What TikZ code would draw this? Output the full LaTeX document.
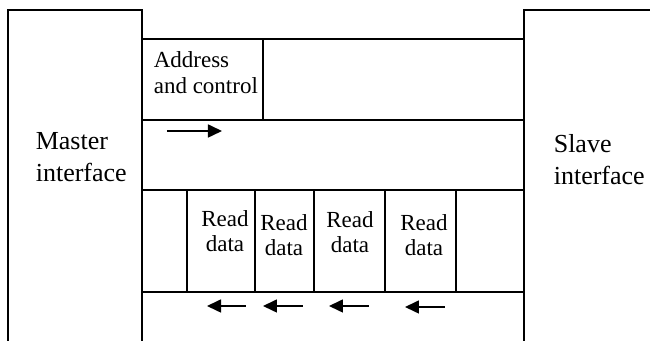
\documentclass[tikz,border=0pt]{standalone}
\usepackage{fontspec}
\setmainfont{Liberation Serif}
\usetikzlibrary{arrows.meta}
\begin{document}
\begin{tikzpicture}[x=0.5pt,y=-0.5pt,line width=0.8pt,
    side/.style={align=left,inner sep=0pt,anchor=base west,font=\fontsize{13}{16}\selectfont},
    lbl/.style={align=center,inner sep=0pt,anchor=base,font=\fontsize{11.5}{12.5}\selectfont},
    bus/.style={-{Triangle[length=7pt,width=6.5pt]}}]
  \useasboundingbox (0,0) rectangle (650,341);

  \coordinate (M1) at (8,341);
  \coordinate (M2) at (8,10);
  \coordinate (M3) at (142,10);
  \coordinate (M4) at (142,341);
  \coordinate (S1) at (524,341);
  \coordinate (S2) at (524,10);
  \coordinate (S3) at (650,10);

  \draw (M1) -- (M2) -- (M3) -- (M4);
  \draw (S1) -- (S2) -- (S3);

  \draw (142,39) -- (524,39);
  \draw (142,120) -- (524,120);
  \draw (142,190) -- (524,190);
  \draw (142,292) -- (524,292);
  \draw (263,39) -- (263,120);
  \foreach \x in {187,255,314,385,456}
    \draw (\x,190) -- (\x,292);

  \node[side] (M) at (35,182) {Master\\interface};
  \node[side] (S) at (553,185) {Slave\\interface};
  \node[lbl,align=left,anchor=base west,font=\fontsize{11.5}{13}\selectfont] (A) at (153,94) {Address\\and control};

  \node[lbl] (R1) at (225,252) {Read\\data};
  \node[lbl] (R2) at (284,256) {Read\\data};
  \node[lbl] (R3) at (350,253) {Read\\data};
  \node[lbl] (R4) at (424,256) {Read\\data};

  \coordinate (P1) at (167,131);
  \coordinate (P2) at (222,131);
  \draw[bus] (P1) -- (P2);

  \coordinate (B1) at (246,306);
  \coordinate (C1) at (207,306);
  \coordinate (B2) at (303,306);
  \coordinate (C2) at (263,306);
  \coordinate (B3) at (369,306);
  \coordinate (C3) at (329,306);
  \coordinate (B4) at (445,307);
  \coordinate (C4) at (405,307);
  \draw[bus] (B1) -- (C1);
  \draw[bus] (B2) -- (C2);
  \draw[bus] (B3) -- (C3);
  \draw[bus] (B4) -- (C4);
\end{tikzpicture}
\end{document}
